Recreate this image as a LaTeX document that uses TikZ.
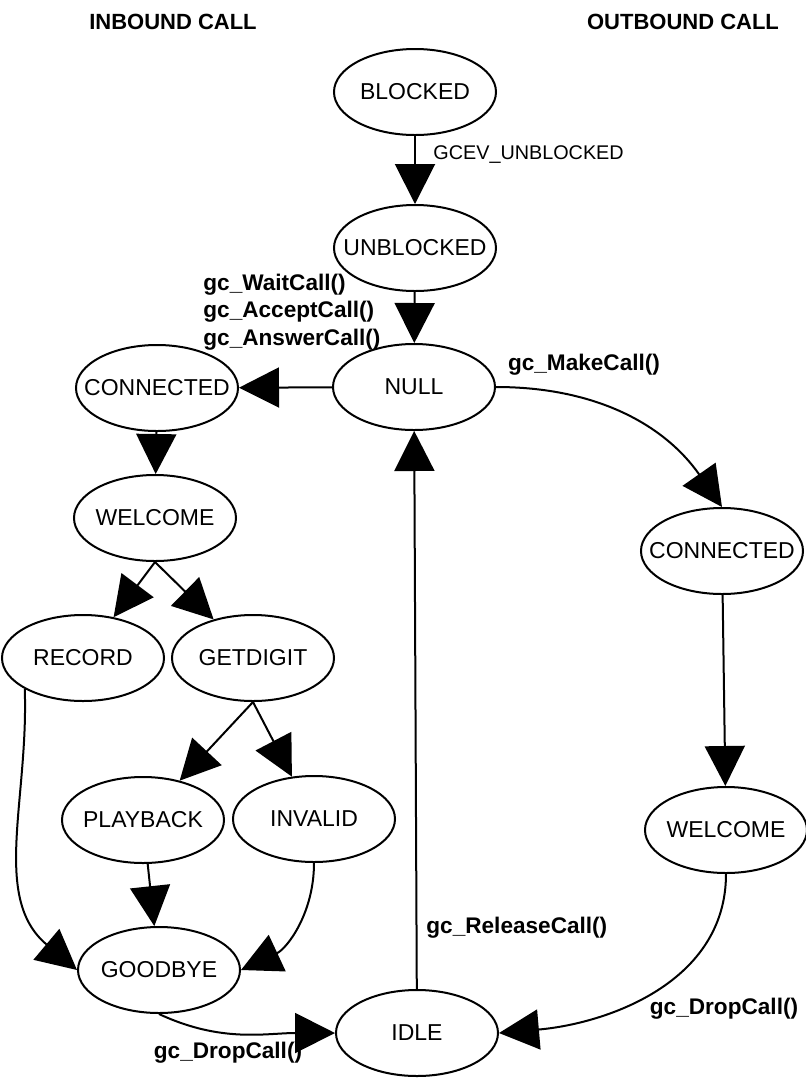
\documentclass[tikz,border=0pt]{standalone}
\usepackage{fontspec}
\setmainfont{Liberation Sans}
\usepackage{xcolor}
\usetikzlibrary{positioning,arrows.meta,shapes.geometric}
\tikzset{
  callstate/.style={ellipse,draw=black,line width=1pt,inner sep=0pt,
                    minimum width=81pt,minimum height=43pt,font=\fontsize{11.5}{13}\selectfont},
  trans/.style    ={-{Triangle[length=20pt,width=20pt]},line width=1pt,draw=black},
  fnlabel/.style  ={font=\fontsize{11.3}{13.75}\selectfont\bfseries,align=left,inner sep=0pt},
  event/.style    ={font=\fontsize{9.9}{12}\selectfont,inner sep=0pt},
  sidehead/.style ={font=\fontsize{11}{13}\selectfont\bfseries,inner sep=0pt},
}
\newcommand{\statename}[1]{\makebox[0pt]{#1}}

\begin{document}
\begin{tikzpicture}[x=0.5pt,y=-0.5pt]
  \useasboundingbox (0,0) rectangle (805,1078);
  \node[sidehead] (inbound) at (173,22) {INBOUND CALL};
  \node[sidehead] (outbound) at (683,22) {OUTBOUND CALL};

  \node[callstate] (blocked)   at (415,92)  {\statename{BLOCKED}};
  \node[callstate] (unblocked) at (415,248) {\statename{UNBLOCKED}};
  \node[callstate] (null)      at (414,387) {\statename{NULL}};
  \node[callstate] (connin)    at (157,388) {\statename{CONNECTED}};
  \node[callstate] (welcomein) at (155,518) {\statename{WELCOME}};
  \node[callstate] (record)    at (83,658)  {\statename{RECORD}};
  \node[callstate] (getdigit)  at (253,658) {\statename{GETDIGIT}};
  \node[callstate] (playback)  at (143,820) {\statename{PLAYBACK}};
  \node[callstate] (invalid)   at (314,819) {\statename{INVALID}};
  \node[callstate] (goodbye)   at (159,970) {\statename{GOODBYE}};
  \node[callstate] (idle)      at (417,1033) {\statename{IDLE}};
  \node[callstate] (connout)   at (722,551) {\statename{CONNECTED}};
  \node[callstate] (welcomeout) at (726,830) {\statename{WELCOME}};

  \draw[trans] (blocked) -- (unblocked);
  \draw[trans] (unblocked) -- (null);
  \draw[trans] (null) -- (connin);
  \draw[trans] (connin) -- (welcomein);
  \draw[trans] (welcomein.south) -- (record);
  \draw[trans] (welcomein.south) -- (getdigit);
  \draw[trans] (getdigit.south) -- (playback);
  \draw[trans] (getdigit.south) -- (invalid);
  \draw[trans] (playback) -- (goodbye);
  \draw[trans] (record.208) to[out=-88,in=140] (goodbye.west);
  \draw[trans] (invalid.south) to[out=-90,in=25] (goodbye.east);
  \draw[trans] (goodbye.south) to[out=-25,in=180] (idle.west);
  \draw[trans] (idle) -- (null);
  \draw[trans] (null.east) to[out=0,in=125] (connout.north);
  \draw[trans] (connout) -- (welcomeout);
  \draw[trans] (welcomeout.south) to[out=-90,in=5] (idle.east);

  \node[event,anchor=west] (unblk) at (433,155) {GCEV\_UNBLOCKED};
  \node[fnlabel,anchor=west] (answer) at (203,312) {gc\_WaitCall()\\gc\_AcceptCall()\\gc\_AnswerCall()};
  \node[fnlabel] (make) at (584,365) {gc\_MakeCall()};
  \node[fnlabel,anchor=west] (release) at (426,928) {gc\_ReleaseCall()};
  \node[fnlabel] (dropin) at (228,1053) {gc\_DropCall()};
  \node[fnlabel] (dropout) at (724,1009) {gc\_DropCall()};
\end{tikzpicture}
\end{document}
